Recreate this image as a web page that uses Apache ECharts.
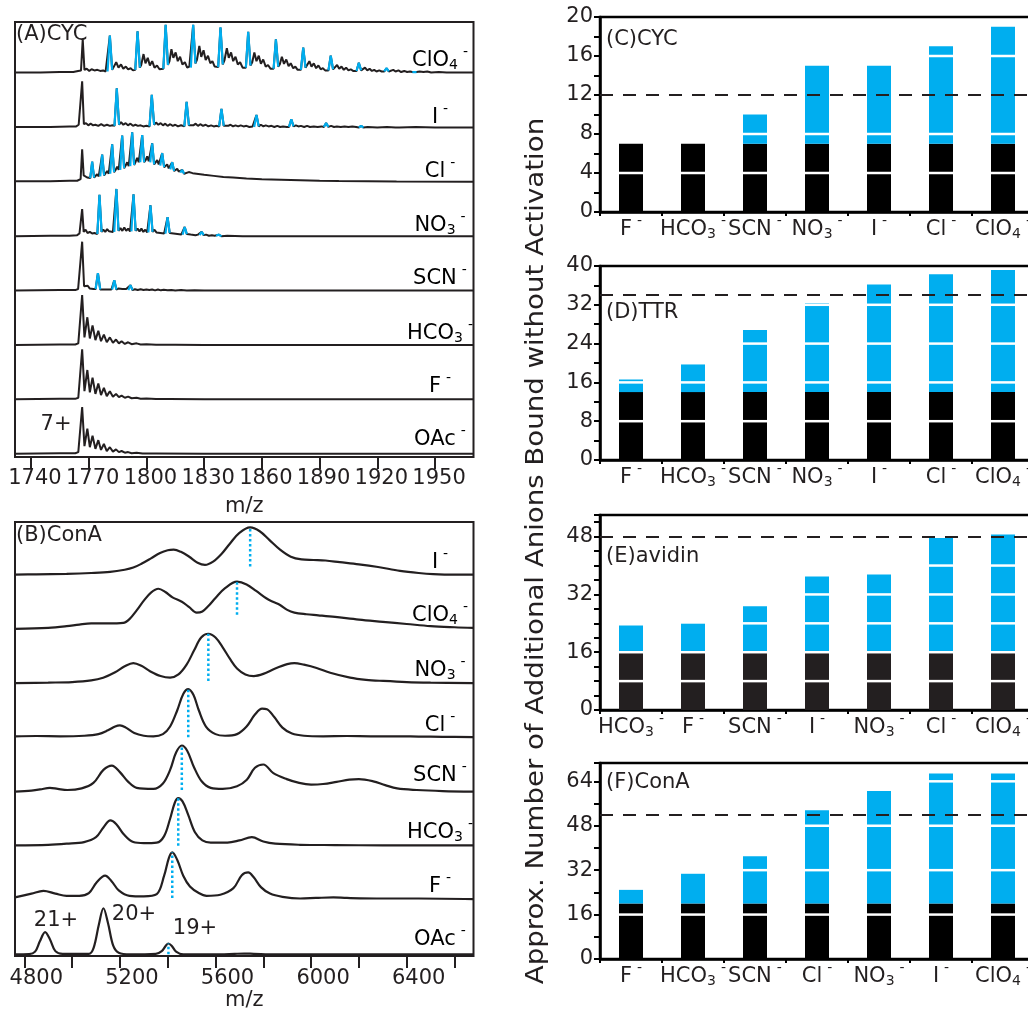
<!DOCTYPE html>
<html>
<head>
<meta charset="utf-8">
<script src="https://cdn.jsdelivr.net/npm/echarts@6/dist/echarts.min.js"></script>
<style>
  html, body { margin: 0; padding: 0; overflow: hidden; background: #fff; }
  #chart { width: 1040px; height: 1009px; }
</style>
</head>
<body>
<div id="chart"></div>
<script>
// ---------- Panel A: CYC 7+ spectra (m/z, relative intensity above each trace baseline) ----------
const cycTicks = [1740, 1770, 1800, 1830, 1860, 1890, 1920, 1950];

const cycClO4 = [[1731.7,0.01],[1745,0.01],[1755,0.02],[1762,0.02],[1764.5,0.04],[1765.5,0.03],
  [1766.0,0.05],[1766.9,0.62],[1767.8,0.06],[1769,0.08],[1770.3,0.04],[1771.5,0.07],[1773,0.05],[1774.5,0.06],[1776,0.04],[1777.5,0.05],[1778.8,0.03],
  [1783,0.08],[1784.3,0.2],[1785.5,0.1],[1786.8,0.16],[1788,0.08],[1789.3,0.12],[1790.5,0.07],[1791.8,0.09],[1793,0.05],
  [1797.3,0.15],[1798.5,0.35],[1799.5,0.18],[1800.7,0.28],[1801.8,0.14],[1803,0.22],[1804.2,0.1],[1805.5,0.14],[1806.8,0.07],[1807.8,0.09],
  [1812,0.22],[1813,0.44],[1814,0.28],[1815.2,0.38],[1816.3,0.22],[1817.5,0.3],[1818.7,0.16],[1820,0.2],[1821.2,0.1],[1822.3,0.12],
  [1826.3,0.25],[1827.5,0.5],[1828.5,0.3],[1829.7,0.42],[1830.8,0.24],[1832,0.32],[1833.2,0.18],[1834.3,0.22],[1835.5,0.12],[1836.5,0.14],
  [1840.6,0.24],[1841.8,0.46],[1842.8,0.28],[1844,0.38],[1845.1,0.22],[1846.3,0.3],[1847.5,0.16],[1848.7,0.2],[1850,0.1],[1851,0.12],
  [1855,0.2],[1856.1,0.38],[1857.2,0.22],[1858.4,0.32],[1859.5,0.17],[1860.7,0.25],[1862,0.12],[1863.2,0.15],[1864.5,0.08],[1865.3,0.1],
  [1869.3,0.16],[1870.4,0.3],[1871.5,0.17],[1872.7,0.25],[1873.9,0.13],[1875,0.18],[1876.3,0.09],[1877.4,0.12],[1878.6,0.06],[1879.5,0.08],
  [1883.6,0.12],[1884.7,0.22],[1885.8,0.12],[1887,0.18],[1888.2,0.09],[1889.4,0.14],[1890.6,0.07],[1891.7,0.09],[1892.9,0.05],[1893.8,0.06],
  [1898,0.09],[1899.1,0.15],[1900.2,0.08],[1901.4,0.12],[1902.6,0.06],[1903.8,0.1],[1905,0.05],[1906.2,0.07],[1907.4,0.04],[1908.3,0.05],
  [1912.5,0.06],[1913.6,0.1],[1914.8,0.05],[1916,0.08],[1917.2,0.04],[1918.4,0.06],[1919.6,0.03],[1921,0.05],[1922.3,0.03],
  [1927,0.04],[1928.3,0.06],[1929.5,0.03],[1931,0.05],[1932.4,0.02],[1934,0.04],[1935.5,0.02],[1937,0.03],
  [1942,0.03],[1944,0.02],[1946,0.03],[1948,0.01],[1952,0.02],[1956,0.01],[1960,0.01],[1970,0.01]];
const cycClO4Peaks = [
  [[1779.8,0.03],[1781.0,0.69],[1782.2,0.06]], [[1794.2,0.06],[1795.4,0.77],[1796.6,0.1]],
  [[1808.8,0.08],[1810.0,0.89],[1811.2,0.15]], [[1823.1,0.1],[1824.3,0.89],[1825.5,0.18]],
  [[1837.3,0.11],[1838.5,0.84],[1839.7,0.16]], [[1851.7,0.1],[1852.9,0.76],[1854.1,0.14]],
  [[1866.1,0.08],[1867.3,0.62],[1868.5,0.12]], [[1880.3,0.06],[1881.5,0.47],[1882.7,0.1]],
  [[1894.6,0.05],[1895.8,0.32],[1897,0.07]], [[1909.2,0.04],[1910.4,0.19],[1911.6,0.05]],
  [[1923.6,0.03],[1924.8,0.09],[1926,0.03]], [[1938.2,0.02],[1939.2,0.05],[1940.4,0.02]]];

const cycI = [[1731.7,0.01],[1750,0.01],[1760,0.02],[1763.5,0.02],[1764.8,0.05],[1765.7,0.05],[1766.6,0.85],[1767.5,0.06],
  [1768.6,0.08],[1769.8,0.04],[1771,0.07],[1772.3,0.04],[1773.5,0.05],[1775,0.03],[1776.5,0.06],[1778,0.03],[1779.5,0.05],[1781,0.03],[1782.3,0.04],
  [1786.8,0.1],[1788,0.05],[1789.2,0.08],[1790.4,0.04],[1791.7,0.07],[1793,0.03],[1794.3,0.05],[1795.6,0.03],[1797,0.04],[1798.4,0.02],[1800,0.03],[1800.8,0.02],
  [1805,0.09],[1806.2,0.05],[1807.4,0.08],[1808.6,0.04],[1809.8,0.07],[1811,0.03],[1812.4,0.06],[1813.7,0.03],[1815,0.05],[1816.4,0.02],[1818,0.04],[1819,0.02],
  [1823.1,0.07],[1824.4,0.04],[1825.6,0.07],[1826.8,0.03],[1828,0.06],[1829.4,0.03],[1830.8,0.05],[1832.2,0.02],[1833.6,0.04],[1835,0.02],[1836.5,0.03],[1837.2,0.02],
  [1841.2,0.06],[1842.5,0.03],[1843.7,0.05],[1845,0.02],[1846.3,0.04],[1847.7,0.02],[1849,0.04],[1850.5,0.02],[1852,0.03],[1853.5,0.01],[1855.2,0.02],
  [1859.5,0.05],[1860.8,0.02],[1862,0.04],[1863.5,0.02],[1865,0.03],[1866.5,0.01],[1868,0.03],[1869.5,0.01],[1871,0.02],[1873,0.01],
  [1877.7,0.04],[1879,0.02],[1880.3,0.03],[1882,0.01],[1883.5,0.03],[1885,0.01],[1887,0.02],[1889,0.01],[1891,0.02],
  [1896,0.03],[1897.5,0.01],[1899,0.02],[1901,0.01],[1903,0.02],[1905,0.01],[1907,0.02],[1909,0.01],
  [1915,0.01],[1920,0.0],[1925,0.01],[1929.5,0.0],[1930.5,0.03],[1931.5,0.0],[1940,0.01],[1950,0.0],[1970,0.0]];
const cycIPeaks = [
  [[1783.4,0.03],[1784.6,0.72],[1785.8,0.05]], [[1801.6,0.02],[1802.8,0.6],[1804,0.05]],
  [[1819.7,0.02],[1820.9,0.47],[1822.1,0.04]], [[1837.8,0.02],[1839.0,0.34],[1840.2,0.03]],
  [[1856,0.01],[1857.2,0.23],[1858.4,0.02]], [[1874.1,0.01],[1875.3,0.15],[1876.5,0.02]],
  [[1892.2,0.01],[1893.4,0.08],[1894.6,0.01]], [[1910.4,0.0],[1911.6,0.03],[1912.8,0.0]]];

const cycCl = [[1731.7,0.01],[1750,0.01],[1760,0.02],[1764,0.02],[1765,0.05],[1765.8,0.05],[1766.6,0.6],[1767.4,0.12],
  [1768.3,0.15],[1769.2,0.08],[1770,0.1],
  [1773.6,0.1],[1774.4,0.14],[1775.2,0.1],[1775.8,0.11],
  [1778.8,0.15],[1779.6,0.2],[1780.4,0.15],[1781,0.16],
  [1784,0.22],[1784.8,0.28],[1785.6,0.22],[1786.2,0.23],
  [1789.2,0.3],[1790,0.36],[1790.8,0.29],[1791.4,0.3],
  [1794.4,0.37],[1795.2,0.44],[1796,0.36],[1796.6,0.37],
  [1799.6,0.4],[1800.4,0.47],[1801.2,0.38],[1801.8,0.37],
  [1804.8,0.34],[1805.6,0.4],[1806.4,0.32],[1807,0.31],
  [1810,0.27],[1810.8,0.32],[1811.6,0.25],[1812.2,0.24],
  [1815.2,0.2],[1816,0.24],[1816.8,0.19],[1817.4,0.18],
  [1820.5,0.16],[1822,0.18],[1824,0.16],[1826,0.15],[1828,0.14],[1830,0.13],[1835,0.11],[1840,0.09],[1845,0.08],[1852,0.06],
  [1860,0.05],[1870,0.04],[1880,0.03],[1890,0.02],[1900,0.015],[1915,0.01],[1930,0.005],[1970,0.0]];
const cycClPeaks = [
  [[1770.8,0.07],[1771.8,0.37],[1772.8,0.08]], [[1776.0,0.1],[1777.0,0.5],[1778.0,0.12]],
  [[1781.2,0.15],[1782.2,0.69],[1783.2,0.18]], [[1786.4,0.22],[1787.4,0.85],[1788.4,0.25]],
  [[1791.6,0.29],[1792.6,0.91],[1793.6,0.31]], [[1796.8,0.36],[1797.8,0.86],[1798.8,0.36]],
  [[1802.0,0.36],[1803.0,0.71],[1804.0,0.32]], [[1807.2,0.3],[1808.2,0.53],[1809.2,0.27]],
  [[1812.4,0.23],[1813.4,0.36],[1814.4,0.2]], [[1817.6,0.17],[1818.6,0.22],[1819.6,0.15]]];

const cycNO3 = [[1731.7,0.0],[1750,0.01],[1760,0.01],[1764,0.02],[1765.2,0.05],[1765.8,0.04],[1766.6,0.5],[1767.4,0.08],
  [1768.4,0.12],[1769.4,0.06],[1770.6,0.08],[1771.8,0.05],[1773,0.06],[1773.8,0.04],
  [1777.6,0.12],[1778.6,0.08],[1779.6,0.13],[1780.6,0.09],[1781.6,0.12],[1782.6,0.08],[1783.2,0.09],
  [1786.5,0.15],[1787.5,0.1],[1788.5,0.16],[1789.5,0.1],[1790.5,0.14],[1791.5,0.09],[1792.1,0.1],
  [1795.4,0.14],[1796.4,0.09],[1797.4,0.14],[1798.4,0.08],[1799.4,0.12],[1800.4,0.07],[1800.9,0.08],
  [1804.2,0.12],[1805.2,0.07],[1806.2,0.1],[1807.2,0.06],[1808.2,0.09],[1809.2,0.05],[1809.8,0.06],
  [1813.1,0.08],[1814.1,0.05],[1815.1,0.07],[1816.1,0.04],[1817.1,0.06],[1818.1,0.03],[1818.7,0.04],
  [1822,0.05],[1823,0.03],[1824,0.04],[1825.5,0.02],[1826.8,0.03],[1827.5,0.02],
  [1831,0.03],[1832.5,0.01],[1834,0.02],[1835.5,0.01],
  [1842,0.01],[1850,0.0],[1870,0.0],[1970,0.0]];
const cycNO3Peaks = [
  [[1774.5,0.04],[1775.6,0.76],[1776.7,0.08]], [[1783.3,0.08],[1784.4,0.87],[1785.5,0.1]],
  [[1792.2,0.09],[1793.3,0.77],[1794.4,0.1]], [[1801.0,0.07],[1802.1,0.57],[1803.2,0.08]],
  [[1809.9,0.05],[1811.0,0.35],[1812.1,0.06]], [[1818.8,0.03],[1819.9,0.17],[1821.0,0.04]],
  [[1827.6,0.02],[1828.7,0.08],[1829.8,0.02]], [[1836.2,0.01],[1837.6,0.03],[1839,0.0]]];

const cycSCN = [[1731.7,0],[1755,0.01],[1763,0.01],[1764.5,0.03],[1765.5,0.05],[1766.6,0.9],[1767.6,0.08],[1768.6,0.05],
  [1769.5,0.09],[1770.5,0.04],[1771.5,0.06],[1772.5,0.03],
  [1777,0.05],[1778,0.02],[1779,0.04],[1780,0.02],[1781,0.04],[1781.8,0.02],
  [1785.5,0.04],[1786.5,0.02],[1787.5,0.03],[1788.5,0.01],[1789.5,0.03],[1790.3,0.01],
  [1794,0.025],[1795.5,0.01],[1797,0.025],[1798.5,0.01],[1800,0.02],[1801.5,0.01],[1803,0.02],[1804.5,0.005],[1806,0.02],
  [1807.5,0.005],[1809,0.015],[1811,0.005],[1813,0.012],[1815,0.004],[1818,0.01],[1821,0.003],[1825,0.008],[1830,0.002],
  [1840,0.004],[1855,0.0],[1970,0.0]];
const cycSCNPeaks = [
  [[1773.6,0.03],[1774.8,0.32],[1776.0,0.02]], [[1782.2,0.02],[1783.3,0.19],[1784.4,0.02]],
  [[1790.6,0.01],[1791.7,0.1],[1792.8,0.01]]];

const cycHCO3 = [[1731.7,0],[1755,0.01],[1763,0.01],[1764.6,0.03],[1765.6,0.06],[1766.6,0.92],[1767.8,0.14],[1769.3,0.51],
  [1770.6,0.12],[1772.0,0.36],[1773.5,0.09],[1775.0,0.26],[1776.4,0.07],[1777.9,0.19],[1779.4,0.05],[1781.0,0.14],[1782.6,0.04],
  [1784.2,0.1],[1785.7,0.03],[1787.1,0.07],[1788.8,0.02],[1790.5,0.05],[1792.3,0.015],[1794.9,0.03],[1797,0.01],[1800,0.015],
  [1805,0.005],[1815,0.004],[1830,0.0],[1970,0]];
const cycF = [[1731.7,0],[1755,0.01],[1763,0.01],[1764.6,0.03],[1765.6,0.06],[1766.6,0.92],[1767.8,0.15],[1769.3,0.54],
  [1770.6,0.13],[1772.0,0.4],[1773.5,0.1],[1775.0,0.29],[1776.4,0.08],[1777.9,0.21],[1779.4,0.06],[1781.0,0.15],[1782.6,0.05],
  [1784.2,0.1],[1785.7,0.04],[1787.1,0.07],[1788.8,0.03],[1790.5,0.05],[1792.3,0.02],[1794.9,0.03],[1797,0.01],[1800,0.015],
  [1805,0.005],[1812,0.008],[1830,0.0],[1970,0]];
const cycOAc = [[1731.7,0],[1755,0.01],[1763,0.01],[1764.6,0.03],[1765.6,0.06],[1766.6,0.86],[1767.8,0.14],[1769.3,0.46],
  [1770.6,0.12],[1772.0,0.33],[1773.5,0.09],[1775.0,0.25],[1776.4,0.07],[1777.9,0.18],[1779.4,0.05],[1781.0,0.12],[1782.6,0.04],
  [1784.2,0.08],[1785.7,0.03],[1787.1,0.05],[1788.8,0.02],[1790.5,0.03],[1792.3,0.01],[1794.9,0.02],[1798,0.005],
  [1805,0.004],[1830,0],[1970,0]];

// ---------- Panel B: ConA spectra ----------
const conaTicks = [4800, 5000, 5200, 5400, 5600, 5800, 6000, 6200, 6400, 6600];
const conaTickLabels = [4800, 5200, 5600, 6000, 6400];

const conaI = [[4761,0],[4850,0.005],[4977,0.015],[5080,0.03],[5159,0.05],[5220,0.09],[5256,0.13],[5290,0.2],[5330,0.3],
  [5368,0.4],[5400,0.45],[5425,0.46],[5455,0.42],[5490,0.33],[5525,0.22],[5556,0.18],[5590,0.24],[5625,0.38],[5660,0.57],
  [5700,0.77],[5745,0.87],[5785,0.8],[5825,0.64],[5870,0.46],[5915,0.33],[5960,0.28],[6010,0.27],[6060,0.26],[6120,0.23],
  [6200,0.19],[6280,0.14],[6372,0.07],[6450,0.03],[6511,0.01],[6600,0.0],[6679,0]];
const conaClO4 = [[4761,0],[4900,0.02],[4977,0.05],[5030,0.08],[5080,0.1],[5150,0.1],[5214,0.11],[5240,0.18],[5270,0.34],
  [5300,0.52],[5330,0.67],[5361,0.74],[5390,0.68],[5420,0.58],[5459,0.5],[5490,0.4],[5521,0.3],[5545,0.32],[5570,0.42],
  [5600,0.57],[5640,0.75],[5690,0.87],[5730,0.82],[5770,0.7],[5814,0.56],[5840,0.5],[5870,0.44],[5900,0.35],[5930,0.3],
  [5980,0.27],[6030,0.25],[6100,0.22],[6200,0.17],[6300,0.13],[6400,0.09],[6500,0.05],[6600,0.03],[6679,0.02]];
const conaNO3 = [[4761,0],[4900,0.01],[5000,0.02],[5080,0.05],[5130,0.1],[5180,0.2],[5220,0.31],[5256,0.37],[5290,0.32],
  [5326,0.22],[5370,0.13],[5410,0.1],[5445,0.16],[5479,0.34],[5510,0.6],[5540,0.84],[5570,0.91],[5600,0.84],[5630,0.66],
  [5660,0.45],[5690,0.27],[5725,0.16],[5760,0.13],[5800,0.17],[5850,0.27],[5900,0.35],[5930,0.37],[5970,0.34],[6023,0.28],
  [6080,0.19],[6163,0.1],[6230,0.06],[6302,0.04],[6400,0.02],[6500,0.01],[6679,0]];
const conaCl = [[4761,0.02],[4850,0.025],[4950,0.02],[5050,0.03],[5110,0.06],[5150,0.13],[5180,0.2],[5200,0.22],[5225,0.18],
  [5260,0.08],[5300,0.03],[5340,0.02],[5380,0.06],[5410,0.2],[5440,0.5],[5465,0.8],[5486,0.89],[5508,0.78],[5530,0.5],
  [5560,0.2],[5600,0.06],[5640,0.03],[5690,0.06],[5730,0.2],[5765,0.42],[5795,0.53],[5815,0.52],[5845,0.38],[5880,0.18],
  [5920,0.07],[5970,0.03],[6050,0.02],[6150,0.025],[6250,0.02],[6350,0.02],[6450,0.015],[6550,0.01],[6679,0.005]];
const conaSCN = [[4761,0],[4830,0.02],[4866,0.04],[4907,0.07],[4940,0.05],[4980,0.03],[5040,0.06],[5089,0.16],[5131,0.4],
  [5166,0.48],[5200,0.36],[5235,0.18],[5270,0.07],[5340,0.05],[5380,0.15],[5410,0.4],[5435,0.72],[5459,0.85],[5482,0.75],
  [5510,0.45],[5542,0.19],[5580,0.07],[5630,0.05],[5690,0.1],[5731,0.22],[5765,0.44],[5800,0.5],[5842,0.34],[5898,0.23],
  [5950,0.16],[6000,0.13],[6050,0.14],[6107,0.18],[6160,0.22],[6200,0.23],[6260,0.19],[6310,0.12],[6360,0.06],[6442,0.03],
  [6550,0.01],[6679,0]];
const conaHCO3 = [[4761,0.01],[4900,0.02],[4977,0.04],[5050,0.07],[5100,0.16],[5131,0.34],[5160,0.47],[5185,0.4],[5215,0.22],
  [5256,0.07],[5300,0.05],[5354,0.06],[5385,0.18],[5410,0.5],[5430,0.8],[5444,0.88],[5462,0.82],[5485,0.58],[5514,0.25],
  [5545,0.1],[5580,0.06],[5650,0.06],[5700,0.1],[5752,0.16],[5800,0.08],[5850,0.04],[5954,0.02],[6100,0.015],[6300,0.01],[6679,0.01]];
const conaF = [[4761,0.05],[4830,0.12],[4880,0.17],[4930,0.12],[4977,0.08],[5030,0.08],[5070,0.13],[5103,0.33],[5138,0.45],
  [5165,0.35],[5195,0.18],[5240,0.08],[5300,0.07],[5354,0.11],[5385,0.45],[5405,0.78],[5419,0.88],[5440,0.74],[5465,0.45],
  [5493,0.25],[5530,0.13],[5563,0.08],[5620,0.1],[5675,0.22],[5710,0.46],[5737,0.51],[5760,0.42],[5790,0.24],[5828,0.12],
  [5880,0.06],[5954,0.03],[6020,0.04],[6093,0.05],[6150,0.04],[6300,0.03],[6450,0.03],[6679,0.02]];
const conaOAc = [[4761,0],[4820,0.005],[4845,0.05],[4865,0.24],[4887,0.41],[4908,0.27],[4930,0.06],[4960,0.01],[5070,0.01],
  [5090,0.12],[5112,0.55],[5131,0.85],[5150,0.58],[5172,0.16],[5195,0.03],[5243,0.0],[5350,0.01],[5375,0.06],[5392,0.16],
  [5403,0.2],[5418,0.15],[5435,0.05],[5465,0.0],[5620,0.0],[5680,0.01],[5720,0.015],[5760,0.01],[5850,0],[6679,0]];
// Dotted markers: [m/z, lower end, upper end]
const conaMarks = [[5745,0.15,0.87],[5690,0.26,0.87],[5570,0.04,0.91],[5486,0.0,0.89],
  [5459,0.03,0.85],[5444,0.0,0.88],[5419,0.04,0.88],[5403,0.0,0.2]];

// ---------- Panels C–F: anions bound ----------
const cycCats = ['F','HCO3','SCN','NO3','I','Cl','ClO4'];
const cycBound = [7,7,7,7,7,7,7];
const cycTotal = [7,7,10,15,15,17,19];
const cycRef = 12;

const ttrCats = ['F','HCO3','SCN','NO3','I','Cl','ClO4'];
const ttrBound = [14,14,14,14,14,14,14];
const ttrTotal = [16.6,19.7,26.8,32.3,36.2,38.3,39.2];
const ttrRef = 34;

const avidinCats = ['HCO3','F','SCN','I','NO3','Cl','ClO4'];
const avidinBound = [16,16,16,16,16,16,16];
const avidinTotal = [23.4,23.9,28.7,37.0,37.5,47.6,48.6];
const avidinRef = 48;

const conaBarCats = ['F','HCO3','SCN','Cl','NO3','I','ClO4'];
const conaBound = [20,20,20,20,20,20,20];
const conaTotal = [24.9,30.7,37.0,53.6,60.5,66.8,66.8];
const conaRef = 52;

// ---------- styling ----------
const FONT = 'DejaVu Sans';
const INK = '#231f20';
const BLUE = '#00aeef';

// Anion formula as rich text: letters, subscript digits, superscript charge
function ionText(name) {
  const m = name.match(/^([A-Za-z]+)(\d*)$/);
  return '{t|' + m[1] + '}' + (m[2] ? '{b|' + m[2] + '}' : '') + '{s|-}';
}
const LINE_H = 26;
const ionRich = {
  t: { fontFamily: FONT, fontSize: 21, color: INK, lineHeight: LINE_H, verticalAlign: 'middle' },
  b: { fontFamily: FONT, fontSize: 14, color: INK, lineHeight: 14, verticalAlign: 'middle', padding: [LINE_H - 16, 0, 2, 0] },
  s: { fontFamily: FONT, fontSize: 14, color: INK, lineHeight: 8, verticalAlign: 'middle', padding: [0, 0, LINE_H - 8, 5] }
};

const grids = [
  { left: 15, top: 22, width: 458.5, height: 435, show: true, borderColor: INK, borderWidth: 2, outerBoundsMode: 'none' },
  { left: 15, top: 522, width: 458.5, height: 434, show: true, borderColor: INK, borderWidth: 2, outerBoundsMode: 'none' },
  { left: 600, top: 17, width: 434, height: 195, show: true, borderColor: '#000', borderWidth: 2.5, outerBoundsMode: 'none' },
  { left: 600, top: 266, width: 434, height: 194, show: true, borderColor: '#000', borderWidth: 2.5, outerBoundsMode: 'none' },
  { left: 600, top: 515, width: 434, height: 195, show: true, borderColor: '#000', borderWidth: 2.5, outerBoundsMode: 'none' },
  { left: 600, top: 763, width: 434, height: 196, show: true, borderColor: '#000', borderWidth: 2.5, outerBoundsMode: 'none' }
];

const xAxes = [];
const yAxes = [];
const series = [];

function spectrumAxis(gridIndex, min, max, ticks, labels, labelMargin, labelShift, nameGap) {
  xAxes.push({
    gridIndex, type: 'value', min, max,
    axisLine: { show: false }, splitLine: { show: false },
    axisTick: { show: true, customValues: ticks, length: 12, lineStyle: { color: INK, width: 2 } },
    axisLabel: { show: true, customValues: labels, fontFamily: FONT, fontSize: 21, color: INK,
      margin: labelMargin, padding: [0, 0, 0, labelShift], formatter: v => String(v) },
    name: 'm/z', nameLocation: 'middle', nameGap,
    nameTextStyle: { fontFamily: FONT, fontSize: 21, color: INK }
  });
  yAxes.push({ gridIndex, type: 'value', min: 0, max: 8, show: false });
}

// Panel A
spectrumAxis(0, 1731.7, 1970, cycTicks, cycTicks, 11, 8, 39);
const cycTraces = [
  [cycClO4, cycClO4Peaks], [cycI, cycIPeaks], [cycCl, cycClPeaks], [cycNO3, cycNO3Peaks],
  [cycSCN, cycSCNPeaks], [cycHCO3, []], [cycF, []], [cycOAc, []]
];
cycTraces.forEach(function (tr, i) {
  const level = 7 - i + 0.06;
  const pts = tr[0].concat(...tr[1]).sort((a, b) => a[0] - b[0]);
  series.push({
    type: 'line', xAxisIndex: 0, yAxisIndex: 0, symbol: 'none', silent: true, z: 2,
    lineStyle: { color: INK, width: 2 },
    data: pts.map(p => [p[0], level + p[1]])
  });
  if (tr[1].length) {
    const blue = [];
    tr[1].forEach(pk => { pk.forEach(p => blue.push([p[0], level + p[1]])); blue.push([pk[1][0], '-']); });
    series.push({
      type: 'line', xAxisIndex: 0, yAxisIndex: 0, symbol: 'none', silent: true, z: 3,
      lineStyle: { color: BLUE, width: 2.2 }, data: blue
    });
  }
});

// Panel B
spectrumAxis(1, 4761, 6679.5, conaTicks, conaTickLabels, 12, 24, 33);
const conaTraces = [conaI, conaClO4, conaNO3, conaCl, conaSCN, conaHCO3, conaF, conaOAc];
conaTraces.forEach(function (tr, i) {
  const level = 7 - i + 0.03;
  series.push({
    type: 'line', xAxisIndex: 1, yAxisIndex: 1, symbol: 'none', silent: true, smooth: 0.35, z: 2,
    lineStyle: { color: INK, width: 2.2 },
    data: tr.map(p => [p[0], level + p[1]])
  });
  const mk = conaMarks[i];
  series.push({
    type: 'line', xAxisIndex: 1, yAxisIndex: 1, symbol: 'none', silent: true, z: 3,
    lineStyle: { color: BLUE, width: 2.5, type: [2.5, 2.5] },
    data: [[mk[0], level + mk[1]], [mk[0], level + mk[2]]]
  });
});

// Bar panels
function barPanel(gi, cats, bound, total, ref, max, minorStep, labelStep, sepLevels, baseColor) {
  xAxes.push({
    gridIndex: gi, type: 'category', data: cats,
    axisLine: { show: true, lineStyle: { color: '#000', width: 2.5 } },
    axisTick: { show: true, length: 4, lineStyle: { color: '#000', width: 2 } },
    axisLabel: { interval: 0, margin: 5, formatter: v => ionText(v), rich: ionRich },
    splitLine: { show: false }
  });
  yAxes.push({
    gridIndex: gi, type: 'value', min: 0, max, interval: minorStep,
    axisLine: { show: true, lineStyle: { color: '#000', width: 2.5 } },
    axisTick: { show: true, length: 6, lineStyle: { color: '#000', width: 2 } },
    axisLabel: { fontFamily: FONT, fontSize: 21, color: INK, margin: 7,
      formatter: v => (Math.abs(v % labelStep) < 1e-6 ? String(v) : '') },
    splitLine: { show: false }
  });
  const axisIdx = xAxes.length - 1;
  series.push({
    type: 'bar', xAxisIndex: axisIdx, yAxisIndex: axisIdx, stack: 'b' + gi, barWidth: 24, silent: true,
    itemStyle: { color: baseColor }, data: bound
  });
  series.push({
    type: 'bar', xAxisIndex: axisIdx, yAxisIndex: axisIdx, stack: 'b' + gi, barWidth: 24, silent: true,
    itemStyle: { color: BLUE }, data: total.map((t, k) => t - bound[k]),
    markLine: {
      silent: true, symbol: 'none', label: { show: false },
      lineStyle: { color: INK, width: 2, type: [13, 10] },
      data: [{ yAxis: ref }]
    }
  });
  const seps = [];
  total.forEach((t, k) => sepLevels.forEach(v => { if (v < t - 0.2) seps.push([k, v]); }));
  series.push({
    type: 'custom', xAxisIndex: axisIdx, yAxisIndex: axisIdx, silent: true, z: 4,
    renderItem: function (params, api) {
      const p = api.coord([api.value(0), api.value(1)]);
      return { type: 'rect', shape: { x: p[0] - 12, y: p[1] - 1.25, width: 24, height: 2.5 }, style: { fill: '#fff' } };
    },
    data: seps
  });
}
barPanel(2, cycCats, cycBound, cycTotal, cycRef, 20, 2, 4, [4, 8, 16], '#000');
barPanel(3, ttrCats, ttrBound, ttrTotal, ttrRef, 40, 4, 8, [8, 16, 24, 32], '#000');
barPanel(4, avidinCats, avidinBound, avidinTotal, avidinRef, 54, 4, 16, [8, 16, 24, 32, 40], INK);
barPanel(5, conaBarCats, conaBound, conaTotal, conaRef, 70.6, 8, 16, [16, 32, 48, 64], '#000');

// ---------- text annotations ----------
function txt(x, y, text, size, align, extra) {
  return Object.assign({
    type: 'text', x, y, silent: true, z: 10,
    style: { text, fontFamily: FONT, fontSize: size, fill: INK, align: align || 'left', verticalAlign: 'middle' }
  }, extra || {});
}
function ion(x, y, name) {
  return {
    type: 'text', x, y, silent: true, z: 10,
    style: { text: ionText(name), rich: ionRich, align: 'center', verticalAlign: 'middle' }
  };
}
const cycLabelNames = ['ClO4', 'I', 'Cl', 'NO3', 'SCN', 'HCO3', 'F', 'OAc'];
const cycLabelY = [61, 118, 172, 226, 279, 334, 387, 440];
const conaLabelNames = ['I', 'ClO4', 'NO3', 'Cl', 'SCN', 'HCO3', 'F', 'OAc'];
const conaLabelY = [563, 616, 671, 726, 776, 833, 887, 940];

const graphics = [
  txt(16, 35, '(A)CYC', 21),
  txt(16, 536, '(B)ConA', 21),
  txt(56, 425, '7+', 21, 'center'),
  txt(56, 921, '21+', 21, 'center'),
  txt(134, 915, '20+', 21, 'center'),
  txt(195, 929, '19+', 21, 'center'),
  txt(606, 40, '(C)CYC', 21),
  txt(606, 313, '(D)TTR', 21),
  txt(606, 557, '(E)avidin', 21),
  txt(606, 783, '(F)ConA', 21),
  txt(537, 551, 'Approx. Number of Additional Anions Bound without Activation', 24, 'center',
      { rotation: Math.PI / 2, scaleX: 1.15 })
];
cycLabelNames.forEach((n, i) => graphics.push(ion(440, cycLabelY[i], n)));
conaLabelNames.forEach((n, i) => graphics.push(ion(440, conaLabelY[i], n)));

const chart = echarts.init(document.getElementById('chart'), null, { renderer: 'canvas' });
chart.setOption({
  animation: false,
  backgroundColor: '#fff',
  grid: grids,
  xAxis: xAxes,
  yAxis: yAxes,
  series,
  graphic: graphics
});
</script>
</body>
</html>
